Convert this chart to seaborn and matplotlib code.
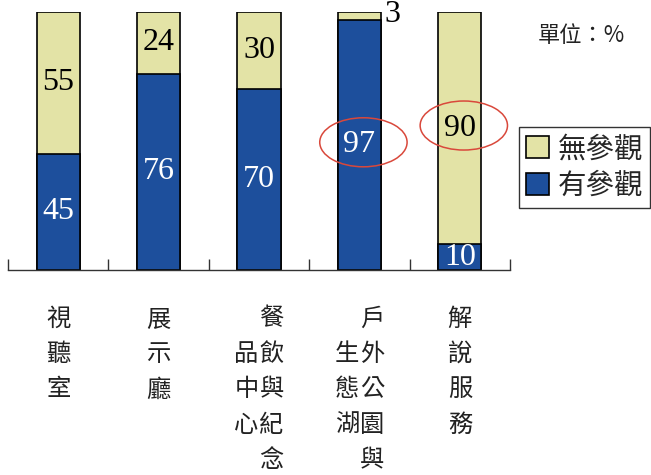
import matplotlib
matplotlib.use("Agg")
import matplotlib.pyplot as plt
import seaborn as sns
import pandas as pd
from matplotlib.patches import Patch, Ellipse

categories = ["視聽室", "展示廳", "餐飲與紀念品中心", "戶外公園與生態湖", "解說服務"]
visited = [45, 76, 70, 97, 10]        # 有參觀
not_visited = [55, 24, 30, 3, 90]     # 無參觀
highlight = [3, 4]                    # circled categories (by index)

BLUE = "#1d4f9c"
KHAKI = "#e3e3a6"

sns.set_theme(style="white")
plt.rcParams["font.family"] = ["Noto Sans CJK TC", "DejaVu Sans"]

df = pd.DataFrame({"cat": categories, "visited": visited, "not_visited": not_visited})
df["total"] = df["visited"] + df["not_visited"]

fig = plt.figure(figsize=(6.51, 4.75), dpi=100)
ax = fig.add_axes([8 / 651, 1 - 270 / 475, (510 - 8) / 651, (270 - 12) / 475])

W = 0.43
sns.barplot(data=df, x="cat", y="total", color=KHAKI, width=W, ax=ax,
            edgecolor="black", linewidth=1.2, saturation=1)
sns.barplot(data=df, x="cat", y="visited", color=BLUE, width=W, ax=ax,
            edgecolor="black", linewidth=1.2, saturation=1)

ax.set_xlim(-0.5, len(categories) - 0.5)
ax.set_ylim(0, 100)
for s in ["top", "left", "right"]:
    ax.spines[s].set_visible(False)
ax.spines["bottom"].set_color("#333333")
ax.spines["bottom"].set_linewidth(1.0)
ax.set_yticks([])
ax.set_xticks([i - 0.5 for i in range(len(categories) + 1)])
ax.set_xticklabels([])
ax.tick_params(axis="x", direction="in", length=8, width=1, color="#333333", bottom=True)
ax.set_xlabel("")
ax.set_ylabel("")

num_font = dict(family="Liberation Serif", fontsize=23)
for i, (v, n) in enumerate(zip(visited, not_visited)):
    ax.text(i, v / 2, str(v), ha="center", va="center", color="white", **num_font)
    if n >= 8:
        ax.text(i, v + n / 2, str(n), ha="center", va="center", color="black", **num_font)
    else:
        ax.text(i + W / 2 + 0.03, v + n / 2 + 0.5, str(n), ha="left", va="center",
                color="black", **num_font)

# red ellipses around highlighted values
for i in highlight:
    yc = visited[i] / 2 if visited[i] > not_visited[i] else visited[i] + not_visited[i] / 2
    ax.add_patch(Ellipse((i + 0.04, yc + 1), 0.87, 19, fill=False,
                         edgecolor="#d9483b", linewidth=1.1, clip_on=False))

# vertical category labels
tr = ax.get_xaxis_transform()
row0 = (270 - 318) / 255
step = 35 / 255
LFS = 17.5
for i, name in enumerate(categories):
    cols = [name[:5], name[5:]] if len(name) > 5 else [name]
    if len(cols) == 1:
        for r, ch in enumerate(cols[0]):
            ax.text(i, row0 - r * step, ch, transform=tr, ha="center", va="center",
                    fontsize=LFS, color="#222222")
    else:
        for r, ch in enumerate(cols[0]):
            ax.text(i + 0.125, row0 - r * step, ch, transform=tr, ha="center", va="center",
                    fontsize=LFS, color="#222222")
        for r, ch in enumerate(cols[1]):
            ax.text(i - 0.125, row0 - (r + 1) * step, ch, transform=tr, ha="center",
                    va="center", fontsize=LFS, color="#222222")

fig.text(538 / 651, 1 - 35 / 475, "單位：%", ha="left", va="center", fontsize=16,
         color="#222222")

handles = [Patch(facecolor=KHAKI, edgecolor="black", linewidth=1.2),
           Patch(facecolor=BLUE, edgecolor="black", linewidth=1.2)]
leg = fig.legend(handles, ["無參觀", "有參觀"], loc="upper left",
                 bbox_to_anchor=(519 / 651, 1 - 127 / 475), frameon=True, fancybox=False,
                 fontsize=20.5, handlelength=0.8, handleheight=0.8, handletextpad=0.3,
                 borderpad=0.25, labelspacing=0.25, borderaxespad=0)
leg.get_frame().set_edgecolor("black")
leg.get_frame().set_linewidth(1.0)

fig.savefig("out.png", dpi=100, facecolor="white")
